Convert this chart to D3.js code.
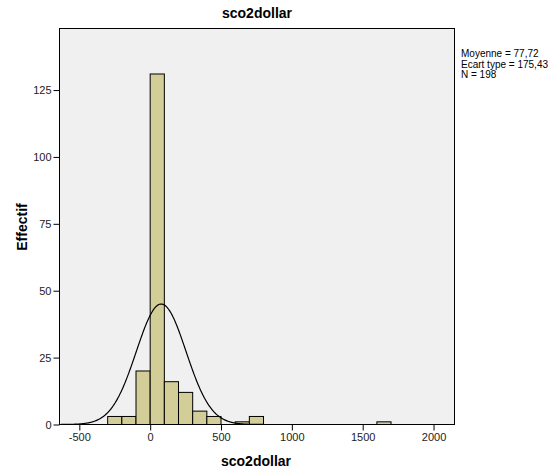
<!DOCTYPE html>
<html><head><meta charset="utf-8">
<script src="https://cdn.jsdelivr.net/npm/d3@7"></script>
<style>body{margin:0;background:#fff;}svg{display:block;font-family:"Liberation Sans",Arial,sans-serif;}</style>
</head><body><svg id="c" width="557" height="470"></svg>
<script>
const binStarts = [-300,-200,-100,0,100,200,300,400,600,700,1600];
const counts    = [3,3,20,131,16,12,5,3,1,3,1];
const binWidth = 100;
const xTicks = [-500,0,500,1000,1500,2000];
const yTicks = [0,25,50,75,100,125];
const stats = {mean:77.72, sd:175.43, n:198};
const statLabels = ["Moyenne = 77,72","Ecart type = 175,43","N = 198"];

const svg = d3.select("#c");
const L=59.5,T=28.5,R=454.5,B=424.5;
const x = d3.scaleLinear().domain([-640,2148]).range([L,R]);
const y = d3.scaleLinear().domain([0,148]).range([B,T]);

svg.append("rect").attr("x",L).attr("y",T).attr("width",R-L).attr("height",B-T).attr("fill","#f0f0f0");

svg.append("g").selectAll("rect").data(binStarts).join("rect")
  .attr("x",(d)=>x(d)).attr("y",(d,i)=>y(counts[i]))
  .attr("width",(d)=>x(d+binWidth)-x(d)).attr("height",(d,i)=>y(0)-y(counts[i]))
  .attr("fill","#d3ce97").attr("stroke","#000").attr("stroke-width",1);

const pdf = v => stats.n*binWidth/(stats.sd*Math.sqrt(2*Math.PI))*Math.exp(-0.5*((v-stats.mean)/stats.sd)**2);
const xs = d3.range(-630,2148,4);
svg.append("path").datum(xs).attr("fill","none").attr("stroke","#000").attr("stroke-width",1.2)
  .attr("d",d3.line().x(d=>x(d)).y(d=>y(pdf(d))));

svg.append("rect").attr("x",L).attr("y",T).attr("width",R-L).attr("height",B-T).attr("fill","none").attr("stroke","#000").attr("stroke-width",1);

const fmt = d => String(d);
const xa = svg.append("g").attr("transform",`translate(0,${B})`)
  .call(d3.axisBottom(x).tickValues(xTicks).tickFormat(fmt).tickSize(6).tickPadding(3).tickSizeOuter(0));
xa.select(".domain").remove();
const ya = svg.append("g").attr("transform",`translate(${L},0)`)
  .call(d3.axisLeft(y).tickValues(yTicks).tickFormat(fmt).tickSize(6).tickPadding(2).tickSizeOuter(0));
ya.select(".domain").remove();
svg.selectAll(".tick text").attr("font-size",11).attr("fill","#222").attr("font-family","Liberation Sans, Arial, sans-serif");
svg.selectAll(".tick line").attr("stroke","#000");

svg.append("text").attr("x",257).attr("y",18).attr("text-anchor","middle").attr("font-weight","bold").attr("font-size",14).text("sco2dollar");
svg.append("text").attr("x",256).attr("y",466).attr("text-anchor","middle").attr("font-weight","bold").attr("font-size",14).text("sco2dollar");
svg.append("text").attr("transform","translate(27,227) rotate(-90)").attr("text-anchor","middle").attr("font-weight","bold").attr("font-size",14).text("Effectif");

svg.append("g").selectAll("text").data(statLabels).join("text")
  .attr("x",461).attr("y",(d,i)=>57+i*10.5).attr("font-size",10).attr("fill","#000").text(d=>d);
</script></body></html>
